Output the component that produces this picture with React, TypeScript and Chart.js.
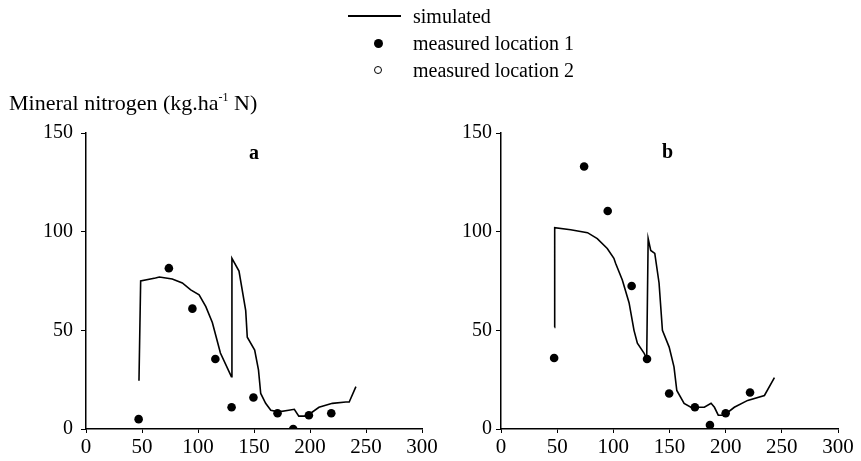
import React, { useEffect, useRef } from "react";
import { Chart, registerables } from "chart.js";

Chart.register(...registerables);

// ---- data ----
const xTickStep = 50;
const xMin = 0;
const xMax = 300;
const yTickStep = 50;
const yMin = 0;
const yMax = 150;

const simADays = [47.3, 48.8, 62, 65.5, 77, 86, 93.5, 101, 107, 112.8, 117, 120, 129.8, 130.3, 136.6, 142.6, 144, 150.6, 154, 156, 160.4, 165, 172, 181, 186, 190, 195, 200.6, 208, 220, 232, 235, 241];
const simAValues = [24.5, 75, 76.5, 77, 76, 74, 70.5, 68, 62, 54, 45, 38.5, 26.5, 86.5, 80, 60, 46.5, 40, 30, 18, 13, 9.5, 8.7, 9.5, 10, 6.5, 6.5, 8, 11, 13, 13.7, 13.7, 21.5];
const measADays = [47, 74, 95, 115.5, 130, 149.5, 171, 185, 199, 219];
const measAValues = [5, 81.5, 61, 35.5, 11, 16, 8, 0, 7, 8];

const simBDays = [47.6, 47.8, 62, 77, 85.7, 94.6, 100.5, 102, 108, 114, 118.4, 121.4, 127.3, 129.7, 131, 133.3, 136.9, 140.7, 143.7, 149.7, 154, 156.5, 163, 169, 181, 187, 190, 193.4, 198.7, 207.7, 219.6, 234.5, 243.4];
const simBValues = [51.5, 102, 101, 99.5, 96.5, 91.5, 86.5, 84, 75.5, 64, 50, 43.5, 38.5, 35.5, 96.5, 90.5, 89, 74, 50, 41.5, 31.5, 19.5, 13, 11, 11, 13, 11, 7, 7, 11, 14.5, 17, 26];
const measBDays = [47.3, 74, 95, 116.3, 130, 149.7, 172.6, 186, 200, 221.7];
const measBValues = [36, 133, 110.5, 72.5, 35.5, 18, 11, 2, 8, 18.5];

const legendLabels = ["simulated", "measured location 1", "measured location 2"];
const panelLabels = ["a", "b"];
const yTitle = "Mineral nitrogen (kg.ha";
const yTitleSup = "-1";
const yTitleEnd = " N)";

const W = 861;
const H = 461;
const SERIF = "'Liberation Serif', 'Times New Roman', serif";

function toPoints(xs: number[], ys: number[]) {
  return xs.map((x, i) => ({ x, y: ys[i] }));
}

type PanelProps = {
  simX: number[];
  simY: number[];
  measX: number[];
  measY: number[];
  areaLeft: number;
  areaRight: number;
  yAxisWidth: number;
  yTickPad: number;
};

function Panel({ simX, simY, measX, measY, areaLeft, areaRight, yAxisWidth, yTickPad }: PanelProps) {
  const ref = useRef<HTMLCanvasElement | null>(null);
  useEffect(() => {
    if (!ref.current) return;
    const areaTop = 133;
    const areaBottom = 429;
    const chart = new Chart(ref.current, {
      type: "scatter",
      data: {
        datasets: [
          {
            label: legendLabels[0],
            data: toPoints(simX, simY),
            showLine: true,
            borderColor: "#000",
            borderWidth: 1.6,
            pointRadius: 0,
            tension: 0,
            fill: false,
          },
          {
            label: legendLabels[1],
            data: toPoints(measX, measY),
            showLine: false,
            pointRadius: 4.3,
            pointBackgroundColor: "#000",
            pointBorderColor: "#000",
            pointBorderWidth: 0,
          },
        ],
      },
      options: {
        animation: false,
        responsive: false,
        maintainAspectRatio: false,
        layout: {
          padding: {
            left: areaLeft - yAxisWidth,
            right: W - areaRight,
            top: areaTop,
            bottom: 0,
          },
        },
        plugins: {
          legend: { display: false },
          tooltip: { enabled: false },
        },
        scales: {
          x: {
            type: "linear",
            min: xMin,
            max: xMax,
            grid: {
              display: true,
              drawOnChartArea: false,
              drawTicks: true,
              tickLength: 4,
              color: "#000",
              lineWidth: 1,
            },
            border: { display: true, color: "#000", width: 1.5 },
            ticks: {
              stepSize: xTickStep,
              color: "#000",
              padding: 2,
              maxRotation: 0,
              autoSkip: false,
              font: { family: SERIF, size: 21 },
            },
            afterFit: (s: any) => {
              s.height = H - areaBottom;
              s.paddingLeft = 0;
              s.paddingRight = 0;
            },
          },
          y: {
            type: "linear",
            min: yMin,
            max: yMax,
            grid: {
              display: true,
              drawOnChartArea: false,
              drawTicks: true,
              tickLength: 5,
              color: "#000",
              lineWidth: 1,
            },
            border: { display: true, color: "#000", width: 1.5 },
            ticks: {
              stepSize: yTickStep,
              color: "#000",
              padding: yTickPad,
              font: { family: SERIF, size: 20 },
            },
            afterFit: (s: any) => {
              s.width = yAxisWidth;
              s.paddingTop = 0;
              s.paddingBottom = 0;
            },
          },
        },
      },
    } as any);
    return () => chart.destroy();
  }, []);
  return (
    <canvas
      ref={ref}
      width={W}
      height={H}
      style={{ position: "absolute", left: 0, top: 0, width: W, height: H }}
    />
  );
}

const textBase: React.CSSProperties = {
  position: "absolute",
  fontFamily: SERIF,
  color: "#000",
  whiteSpace: "nowrap",
};

export default function App() {
  const legendRows = [16, 43, 70];
  return (
    <div
      style={{
        position: "absolute",
        left: 0,
        top: 0,
        width: W,
        height: H,
        background: "#fff",
        overflow: "hidden",
      }}
    >
      <Panel
        simX={simADays}
        simY={simAValues}
        measX={measADays}
        measY={measAValues}
        areaLeft={86}
        areaRight={422}
        yAxisWidth={86}
        yTickPad={8}
      />
      <Panel
        simX={simBDays}
        simY={simBValues}
        measX={measBDays}
        measY={measBValues}
        areaLeft={501}
        areaRight={838}
        yAxisWidth={60}
        yTickPad={4}
      />

      {/* legend */}
      <div style={{ position: "absolute", left: 348, top: legendRows[0] - 0.75, width: 53, height: 1.5, background: "#000" }} />
      <div style={{ position: "absolute", left: 378 - 4.5, top: legendRows[1] - 4.5, width: 9, height: 9, borderRadius: "50%", background: "#000" }} />
      <div style={{ position: "absolute", left: 378 - 4, top: legendRows[2] - 4, width: 8, height: 8, boxSizing: "border-box", borderRadius: "50%", border: "1px solid #000" }} />
      {legendLabels.map((t, i) => (
        <div key={t} style={{ ...textBase, left: 413, top: legendRows[i] - 12, height: 24, lineHeight: "24px", fontSize: 20 }}>
          {t}
        </div>
      ))}

      {/* y title */}
      <div style={{ ...textBase, left: 9, top: 103 - 13, height: 26, lineHeight: "26px", fontSize: 22 }}>
        {yTitle}
        <span style={{ fontSize: 12, position: "relative", top: -9 }}>{yTitleSup}</span>
        {yTitleEnd}
      </div>

      {/* panel labels */}
      <div style={{ ...textBase, left: 255 - 6, top: 152 - 12, height: 24, lineHeight: "24px", fontSize: 20, fontWeight: "bold" }}>
        {panelLabels[0]}
      </div>
      <div style={{ ...textBase, left: 668 - 6, top: 151 - 12, height: 24, lineHeight: "24px", fontSize: 20, fontWeight: "bold" }}>
        {panelLabels[1]}
      </div>
    </div>
  );
}
